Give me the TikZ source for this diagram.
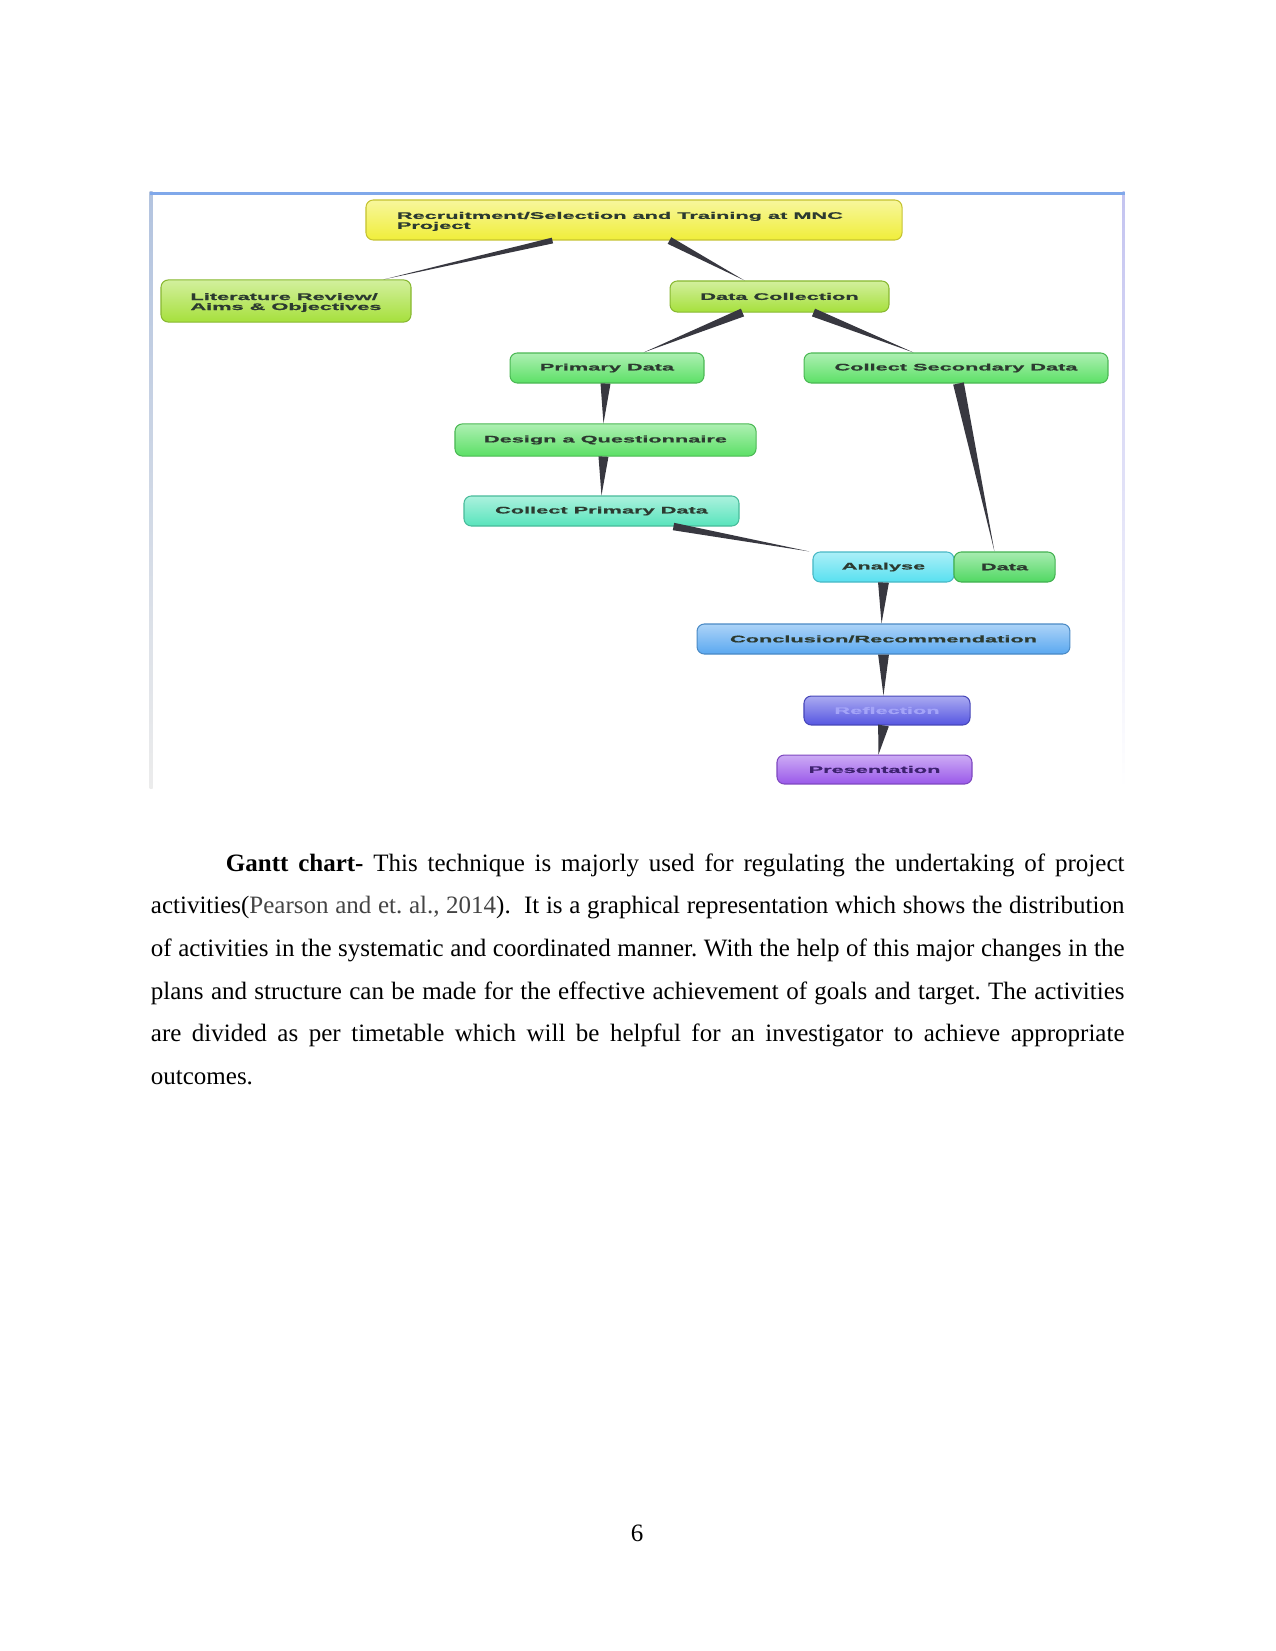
\documentclass[tikz,border=0pt]{standalone}
\usepackage{fontspec}
\setmainfont{Liberation Serif}
\newfontfamily\boxfont[FakeBold=0.6]{Liberation Sans}
\usetikzlibrary{calc}

\definecolor{cyellow}{HTML}{F0EE3A}
\definecolor{cygreen}{HTML}{A6E03C}
\definecolor{cgreen}{HTML}{5CE066}
\definecolor{caqua}{HTML}{58E4BC}
\definecolor{ccyan}{HTML}{58E0F0}
\definecolor{cdgreen}{HTML}{50D862}
\definecolor{clblue}{HTML}{5AA8F0}
\definecolor{cviolet}{HTML}{5656E2}
\definecolor{cpurple}{HTML}{9A58EA}
\definecolor{boxtext}{HTML}{2C3A30}
\definecolor{reftext}{HTML}{A4A4F8}
\definecolor{pretext}{HTML}{3E2270}
\definecolor{conngray}{HTML}{383840}
\definecolor{framebl}{HTML}{80A8EA}
\definecolor{frameright}{HTML}{C4C4F0}
\definecolor{citegray}{HTML}{444444}

\newcommand{\stretchtxt}[1]{\scalebox{2.27}[1]{#1}}
\newcommand{\wedgeconn}[3]{%
  \fill[conn] let \p1=#1, \p2=#2, \n1={atan2(\y2-\y1,\x2-\x1)} in
    ($(\p1)+(\n1+90:#3)$) -- ($(\p1)+(\n1-90:#3)$) -- (\p2) -- cycle;}

\tikzset{
  box/.style={rounded corners=3.5pt, draw=#1!82!black, line width=0.5pt,
    top color=#1!50!white, bottom color=#1, inner sep=0pt,
    font=\boxfont\bfseries\fontsize{4.6}{4.8}\selectfont, text=boxtext},
  conn/.style={fill=conngray},
  bodytext/.style={inner sep=0pt, font=\fontsize{12}{20.5}\selectfont,
    text width=467.3pt, align=justify},
}

\begin{document}
\begin{tikzpicture}[x=0.48pt,y=-0.48pt]
\useasboundingbox (0,0) rectangle (1275,1651);
\fill[white] (0,0) rectangle (1275,1651);

% frame of the picture
\shade[top color=framebl!70!gray!60, bottom color=gray!15] (149.5,192) rectangle (152.5,788);
\shade[top color=frameright, bottom color=white] (1122.5,192) rectangle (1124.5,788);
\fill[framebl] (149.5,192) rectangle (1124.5,195.5);

% boxes
\node[box=cyellow, minimum width=257.3pt, minimum height=19.2pt] (rec) at (634,220) {};
\node[inner sep=0pt, anchor=north west, font=\boxfont\bfseries\fontsize{4.6}{4.8}\selectfont, text=boxtext] (rectxt) at ($(rec.north west)+(31,12)$)
  {\stretchtxt{\begin{tabular}[t]{@{}l@{}}Recruitment/Selection and Training at MNC\\Project\end{tabular}}};
\node[box=cygreen, minimum width=120pt, minimum height=20.2pt] (lit) at (286,301) {};
\node[inner sep=0pt, font=\boxfont\bfseries\fontsize{4.6}{4.8}\selectfont, text=boxtext] (littxt) at ($(lit.center)+(0,2)$)
  {\stretchtxt{\begin{tabular}{@{}l@{}}Literature Review/\\Aims \& Objectives\end{tabular}}};
\node[box=cygreen, minimum width=105.1pt, minimum height=14.9pt] (dc) at (779.5,296.5) {\stretchtxt{Data Collection}};
\node[box=cgreen, minimum width=93.1pt, minimum height=14.4pt] (pd) at (607,368) {\stretchtxt{Primary Data}};
\node[box=cgreen, minimum width=145.9pt, minimum height=14.4pt] (csd) at (956,368) {\stretchtxt{Collect Secondary Data}};
\node[box=cgreen, minimum width=144.5pt, minimum height=15.4pt] (dq) at (605.5,440) {\stretchtxt{Design a Questionnaire}};
\node[box=caqua, minimum width=132pt, minimum height=14.4pt] (cpd) at (601.5,511) {\stretchtxt{Collect Primary Data}};
\node[box=ccyan, minimum width=67.7pt, minimum height=14.4pt] (an) at (883.5,567) {\stretchtxt{Analyse}};
\node[box=cdgreen, minimum width=48.5pt, minimum height=14.4pt] (da) at (1004.5,567) {\stretchtxt{Data}};
\node[box=clblue, minimum width=179pt, minimum height=14.4pt] (con) at (883.5,639) {\stretchtxt{Conclusion/Recommendation}};
\node[box=cviolet, minimum width=79.7pt, minimum height=13.9pt, text=reftext] (ref) at (887,710.5) {\stretchtxt{Reflection}};
\node[box=cpurple, minimum width=93.6pt, minimum height=13.9pt, text=pretext] (pre) at (874.5,769.5) {\stretchtxt{Presentation}};

% tapered connectors
\wedgeconn{($(rec.south west)+(187,0)$)}{($(lit.north west)+(223,0)$)}{1.4pt}
\wedgeconn{($(rec.south west)+(304,0)$)}{($(dc.north west)+(75,0)$)}{1.8pt}
\wedgeconn{($(dc.south west)+(73,0)$)}{($(pd.north west)+(134,0)$)}{2pt}
\wedgeconn{($(dc.south west)+(144,0)$)}{($(csd.north west)+(110,0)$)}{2pt}
\wedgeconn{($(pd.south west)+(96,0)$)}{($(dq.north west)+(149,0)$)}{2.4pt}
\wedgeconn{($(dq.south west)+(149,0)$)}{($(cpd.north west)+(138,0)$)}{2.4pt}
\wedgeconn{($(csd.south west)+(155,0)$)}{($(da.north west)+(41,0)$)}{2.6pt}
\wedgeconn{($(cpd.south west)+(210,0)$)}{($(an.north west)+(-3,0)$)}{1.8pt}
\wedgeconn{($(an.south west)+(71,0)$)}{($(con.north west)+(185,0)$)}{2.6pt}
\wedgeconn{($(con.south west)+(187,0)$)}{($(ref.north west)+(80,0)$)}{2.6pt}
\wedgeconn{($(ref.south west)+(80,0)$)}{($(pre.north west)+(102,0)$)}{2.6pt}

% body text
\node[bodytext, anchor=north west] (para) at (150.5,845.6) {\frenchspacing%
\noindent\rule{0pt}{12pt}\hspace*{36pt}\textbf{Gantt chart-} This technique is majorly used for regulating the undertaking of project\linebreak
activities(\textcolor{citegray}{Pearson and et. al., 2014}).\ \ It is a graphical representation which shows the distribution\linebreak
of activities in the systematic and coordinated manner. With the help of this major changes in the\linebreak
plans and structure can be made for the effective achievement of goals and target. The activities\linebreak
are divided as per timetable which will be helpful for an investigator to achieve appropriate\linebreak
outcomes.};

% page number
\node[inner sep=0pt, anchor=base, font=\fontsize{12}{14}\selectfont] (pagenum) at (637,1541) {6};
\end{tikzpicture}
\end{document}
